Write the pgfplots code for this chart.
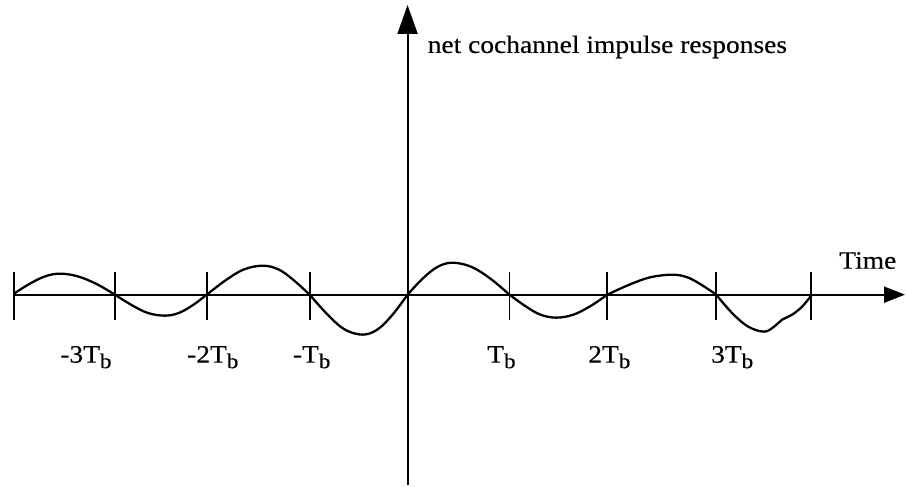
\documentclass[border=0pt]{standalone}
\usepackage{fontspec}
\setmainfont[FakeStretch=1.1,FakeBold=0.4]{Liberation Serif}
\usepackage{pgfplots}
\pgfplotsset{compat=1.18}
\usetikzlibrary{arrows.meta}
\newcommand{\sub}[1]{\raisebox{-0.22em}{\fontsize{21bp}{24bp}\selectfont #1}}
\begin{document}
\begin{tikzpicture}
\begin{axis}[
  width=906bp, height=486bp, scale only axis,
  xmin=0, xmax=906, ymin=-191, ymax=295,
  axis lines=none, clip=false,
  unbounded coords=jump,
]
% invisible frame so the picture keeps the full extent
\addplot[draw=none] coordinates {(0,-191) (906,295)};
% horizontal (time) axis
\addplot[black, line width=2bp, -{Triangle[length=21bp,width=16bp]}] coordinates {(14,0) (906,0)};
% vertical axis
\addplot[black, line width=2bp, -{Triangle[length=29bp,width=20bp]}] coordinates {(408,-191) (408,290)};
% tick marks
\addplot[black, line width=1.7bp] coordinates {
 (14,23) (14,-25) (nan,nan)
 (115,23) (115,-25) (nan,nan)
 (207,23) (207,-25) (nan,nan)
 (310,23) (310,-25) (nan,nan)
 (510,23) (510,-25) (nan,nan)
 (608,23) (608,-25) (nan,nan)
 (717,23) (717,-25) (nan,nan)
 (812,23) (812,-25)
};
% impulse response curve, one lobe per bit interval
\pgfplotsset{lobe/.style={black, line width=2.3bp, smooth, tension=0.6, line cap=round, line join=round}}
\addplot[lobe] coordinates {(14,1) (29,10.5) (45,18.3) (60,21) (78,18.3) (97,10.5) (115,0)};
\addplot[lobe] coordinates {(115,0) (132,-10.5) (148,-18.3) (165,-21) (179,-18.3) (193,-10.5) (207,0)};
\addplot[lobe] coordinates {(207,0) (226,14.5) (244,25.2) (263,29) (279,25.2) (294,14.5) (310,0)};
\addplot[lobe] coordinates {(310,0) (328,-20) (345,-34.8) (363,-40) (378,-34.8) (393,-20) (408,0)};
\addplot[lobe] coordinates {(408,0) (423,16) (438,27.8) (453,32) (472,27.8) (491,16) (510,0)};
\addplot[lobe] coordinates {(510,0) (526,-11.5) (541,-20) (557,-23) (574,-20) (591,-11.5) (608,0)};
\addplot[lobe] coordinates {(608,0) (630,10) (651,17.4) (673,20) (688,17.4) (702,10) (717,0)};
\addplot[lobe] coordinates {(717,0) (733,-18.5) (749,-32) (765,-37) (775,-32) (783,-25) (793,-20) (803,-12) (812,-1)};
% labels
\node[anchor=base west, font=\fontsize{25bp}{30bp}\selectfont, inner sep=0pt] at (axis cs:428,242) {net cochannel impulse responses};
\node[anchor=base west, font=\fontsize{25bp}{30bp}\selectfont, inner sep=0pt] at (axis cs:840,26) {Time};
\foreach \xx/\lab in {86/-3T, 213/-2T, 312/-T, 502/T, 610/2T, 733/3T}{
  \edef\tmp{\noexpand\node[anchor=base, font=\noexpand\fontsize{25bp}{30bp}\noexpand\selectfont, inner sep=0pt] at (axis cs:\xx,-68) {\lab\noexpand\sub{b}};}
  \tmp
}
\end{axis}
\end{tikzpicture}
\end{document}
